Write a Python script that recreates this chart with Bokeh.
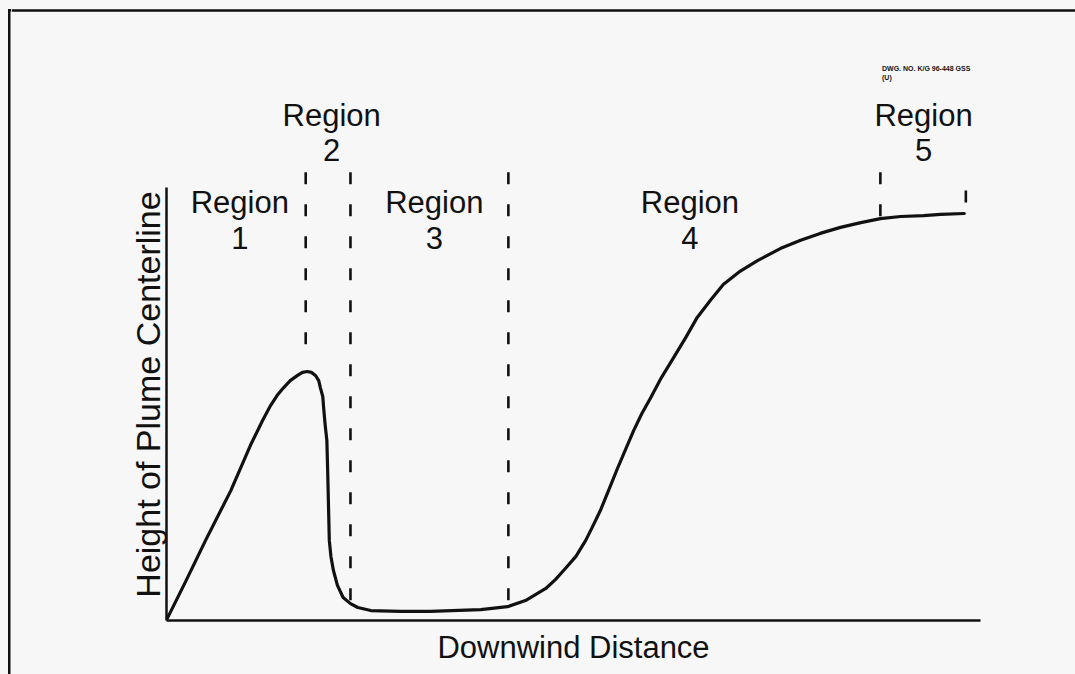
from bokeh.plotting import figure
from bokeh.layouts import column, row
from bokeh.models import Range1d, FixedTicker, ColumnDataSource, LabelSet, Div
from bokeh.core.properties import value
from bokeh.embed import file_html
from bokeh.resources import INLINE

# ---- data (read from the schematic; arbitrary units, 0-100 along each axis) ----
distance = [0.1, 2.3, 4.8, 7.9, 10.3, 11.8, 12.8, 13.6, 14.4, 15.2, 16.1, 16.7, 17.3,
            17.8, 18.3, 18.7, 18.9, 19.2, 19.3, 19.5, 19.7, 19.8, 19.9, 20.0, 20.2,
            20.5, 21.0, 21.7, 22.6, 23.5, 25.1, 28.8, 32.4, 38.6, 41.9, 44.1, 46.6,
            47.8, 49.0, 50.3, 51.5, 52.3, 53.3, 54.3, 55.4, 56.4, 57.4, 58.4, 59.5,
            60.8, 62.3, 63.8, 65.2, 66.8, 68.4, 70.5, 72.6, 75.4, 77.9, 80.3, 82.8,
            85.3, 87.7, 90.2, 93.0, 95.1, 98.0]
height = [0.5, 8.8, 18.5, 30.0, 40.4, 46.2, 49.7, 52.0, 53.8, 55.4, 56.6, 57.3, 57.5,
          57.3, 56.6, 55.4, 53.8, 51.7, 49.2, 45.0, 41.6, 34.6, 26.6, 18.5, 14.8,
          11.6, 8.1, 5.3, 3.9, 3.0, 2.3, 2.1, 2.1, 2.5, 3.2, 4.6, 7.4,
          9.5, 12.0, 14.8, 18.5, 21.5, 25.4, 30.0, 35.1, 39.5, 43.9, 47.8, 51.5,
          56.1, 60.7, 65.4, 70.0, 73.9, 77.6, 80.7, 83.1, 85.9, 87.8, 89.4, 90.8,
          91.9, 92.8, 93.3, 93.5, 93.8, 94.0]

# region boundaries (dashed markers)
boundary_x = [17.1, 22.6, 42.0, 87.7, 98.2]
boundary_top = [103.5, 103.5, 103.5, 103.5, 99.3]
boundary_bottom = [60.0, 3.9, 3.9, 93.1, 95.2]

# region labels
region_names = ["1", "2", "3", "4", "5"]
region_x = [9.0, 20.3, 32.9, 64.3, 93.0]
region_word_y = [94.0, 114.3, 94.0, 94.0, 114.3]
region_num_y = [85.9, 106.2, 85.9, 85.9, 106.2]

x_title = "Downwind Distance"
y_title = "Height of Plume Centerline"
drawing_no = "DWG. NO. K/G 96-448 GSS"
drawing_class = "(U)"
drawing_no_x = 87.9
drawing_no_y = [127.0, 124.9]

# sheet border top edge (same data units as the plot)
sheet_top_y = 140.9

INK = "#111111"
BG = "#f7f7f7"
FONT = "Liberation Sans"

# coordinate extents of the panels (same linear mapping everywhere)
X_LEFT, X_MAX = -19.04, 111.67
Y_TOP, Y_SPLIT = 143.19, 104.39
TOP_H = 168
MAIN_H = 674 - TOP_H
STRIP_W = 11


def bare(w, h, xr, yr):
    f = figure(width=w, height=h, x_range=xr, y_range=yr,
               output_backend="svg", toolbar_location=None,
               x_axis_location=None, y_axis_location=None,
               min_border=0, min_border_left=0, min_border_right=0,
               min_border_top=0, min_border_bottom=0,
               background_fill_color=BG, border_fill_color=BG,
               outline_line_color=None)
    f.xgrid.visible = False
    f.ygrid.visible = False
    return f


# ---- left strip: the sheet's left border line (full height) ----
left = Div(text="", width=STRIP_W, height=674, margin=0,
           styles={"background-color": BG,
                   "background-image": "linear-gradient(%s, %s), linear-gradient(%s, %s)"
                                       % (INK, INK, INK, INK),
                   "background-repeat": "no-repeat, no-repeat",
                   "background-position": "8px 9px, 8px 9px",
                   "background-size": "2.5px 665px, 3px 2.5px",
                   "padding": "0", "margin": "0"})

# ---- top strip (labels above the plot, sheet top border) ----
top = bare(1075 - STRIP_W, TOP_H, Range1d(X_LEFT, X_MAX), Range1d(Y_SPLIT, Y_TOP))
top.segment(x0=[X_LEFT], y0=[sheet_top_y], x1=[X_MAX], y1=[sheet_top_y],
            line_color=INK, line_width=2.5)

# ---- main plot ----
p = figure(width=1075 - STRIP_W, height=MAIN_H,
           x_range=Range1d(0, 100), y_range=Range1d(0, Y_SPLIT),
           output_backend="svg", toolbar_location=None,
           min_border_left=155, min_border_right=95,
           min_border_top=0, min_border_bottom=54,
           background_fill_color=BG, border_fill_color=BG,
           outline_line_color=None,
           x_axis_label=x_title, y_axis_label=y_title)
p.xgrid.visible = False
p.ygrid.visible = False

for ax in (p.xaxis[0], p.yaxis[0]):
    ax.ticker = FixedTicker(ticks=[])
    ax.major_tick_out = 0
    ax.major_tick_in = 0
    ax.minor_tick_out = 0
    ax.minor_tick_in = 0
    ax.major_label_standoff = 0
    ax.axis_line_width = 2.5
    ax.axis_line_color = INK
    ax.axis_label_text_font = FONT
    ax.axis_label_text_font_style = "normal"
    ax.axis_label_text_color = INK

p.xaxis[0].axis_label_text_font_size = "31px"
p.xaxis[0].axis_label_standoff = 9
p.yaxis[0].axis_label_text_font_size = "34px"
p.yaxis[0].axis_label_standoff = 0
p.yaxis[0].bounds = (0, 100)

# dashed region boundaries
p.segment(x0=boundary_x, y0=boundary_top, x1=boundary_x, y1=boundary_bottom,
          line_color=INK, line_width=2.6, line_dash="12 20")

# plume centerline
p.line(distance, height, line_color=INK, line_width=3.2,
       line_join="round", line_cap="round")

# region labels: each goes to the panel that holds its height
lab_x = region_x + region_x
lab_y = region_word_y + region_num_y
lab_t = ["Region"] * len(region_names) + region_names
hi = [i for i, yy in enumerate(lab_y) if yy > Y_SPLIT]
lo = [i for i, yy in enumerate(lab_y) if yy <= Y_SPLIT]
for target, idx in ((top, hi), (p, lo)):
    src = ColumnDataSource(dict(x=[lab_x[i] for i in idx],
                                y=[lab_y[i] for i in idx],
                                t=[lab_t[i] for i in idx]))
    target.add_layout(LabelSet(x="x", y="y", text="t", source=src,
                               text_align="center", text_baseline="alphabetic",
                               text_font=value(FONT), text_font_size="31px",
                               text_color=INK))

# drawing number
dsrc = ColumnDataSource(dict(x=[drawing_no_x, drawing_no_x], y=drawing_no_y,
                             t=[drawing_no, drawing_class]))
top.add_layout(LabelSet(x="x", y="y", text="t", source=dsrc,
                        text_align="left", text_baseline="alphabetic",
                        text_font=value(FONT), text_font_size="7px",
                        text_font_style="bold", text_color=INK))

# the main plot sits in its own row so its frame is not aligned with the top strip
layout = row(left, column(top, row(p, spacing=0), spacing=0), spacing=0,
             styles={"background-color": BG})

open("out.html", "w").write(file_html(layout, INLINE))
